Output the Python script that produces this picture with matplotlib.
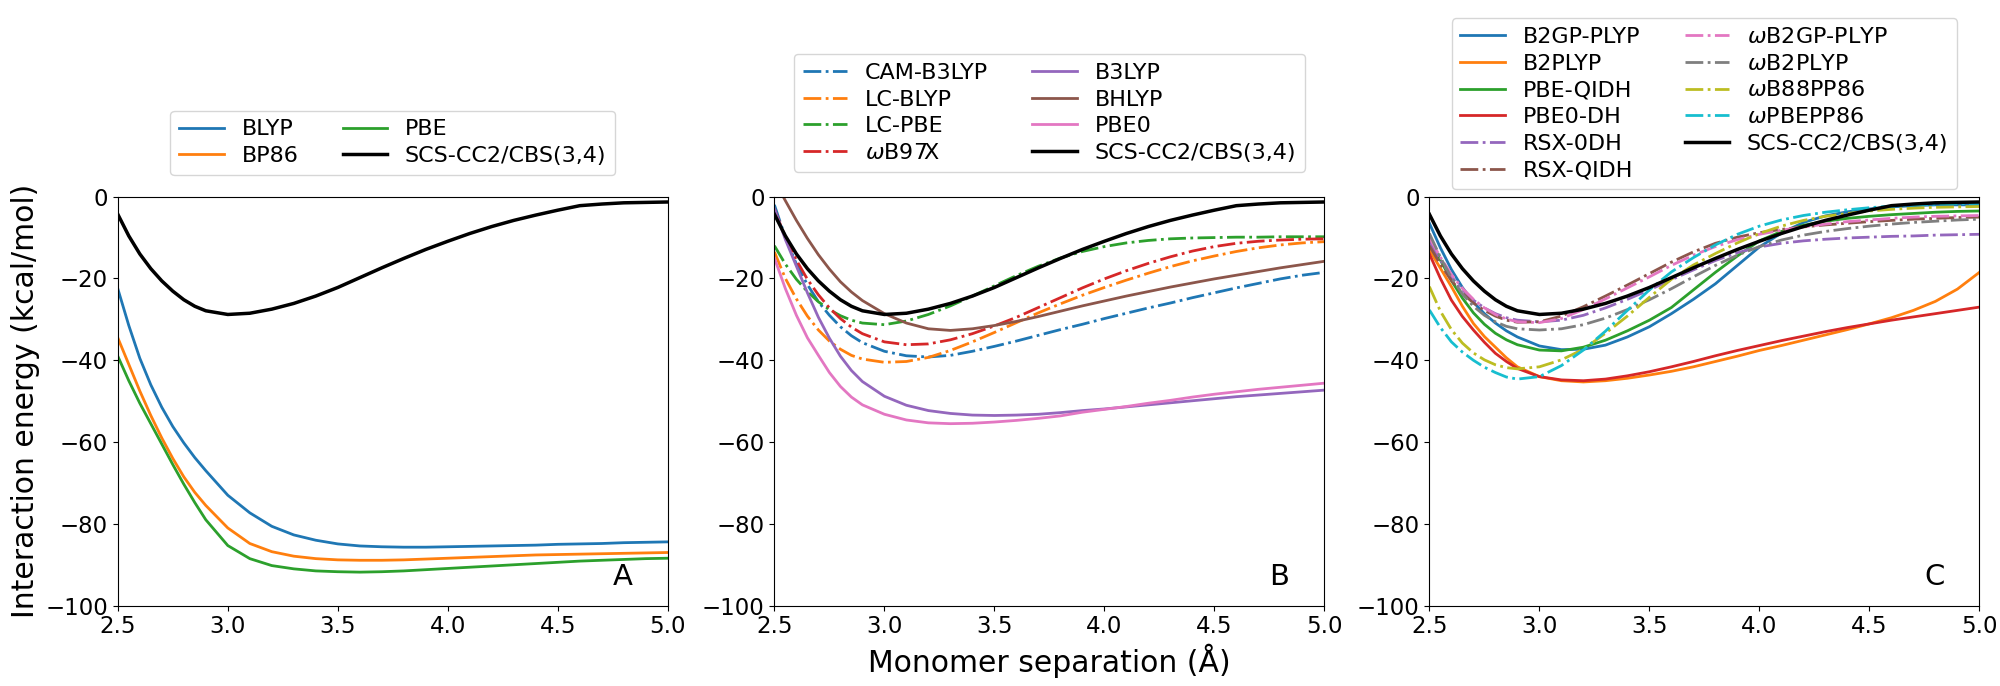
import matplotlib
matplotlib.use("Agg")
import matplotlib.pyplot as plt

# Monomer separation grid (Å)
sep = [2.5, 2.55, 2.6, 2.65, 2.7, 2.75, 2.8, 2.85, 2.9, 3.0, 3.1, 3.2, 3.3, 3.4, 3.5,
       3.6, 3.7, 3.8, 3.9, 4.0, 4.1, 4.2, 4.3, 4.4, 4.5, 4.6, 4.7, 4.8, 4.9, 5.0]

# Reference
scs_cc2 = [-4.3, -9.6, -14.0, -17.6, -20.6, -23.1, -25.2, -26.8, -27.9, -28.8, -28.5, -27.5, -26.1, -24.3, -22.2,
           -19.8, -17.4, -15.1, -12.9, -10.9, -9.0, -7.3, -5.8, -4.5, -3.3, -2.2, -1.8, -1.5, -1.4, -1.3]

# Panel A
blyp = [-22.5, -31.5, -39.5, -46.0, -51.5, -56.2, -60.2, -63.8, -67.0, -73.0, -77.3, -80.6, -82.7, -84.0, -84.9,
        -85.4, -85.6, -85.7, -85.7, -85.6, -85.5, -85.4, -85.3, -85.2, -85.0, -84.9, -84.8, -84.6, -84.5, -84.4]
bp86 = [-34.5, -41.0, -47.5, -53.5, -59.0, -64.0, -68.5, -72.3, -75.5, -81.0, -84.8, -86.8, -87.9, -88.5, -88.8,
        -88.9, -88.9, -88.8, -88.6, -88.4, -88.2, -88.0, -87.8, -87.6, -87.5, -87.4, -87.3, -87.2, -87.1, -87.0]
pbe = [-39.0, -45.0, -50.5, -55.5, -60.5, -65.5, -70.3, -74.8, -79.0, -85.3, -88.5, -90.2, -91.0, -91.5, -91.7,
       -91.8, -91.7, -91.5, -91.2, -90.9, -90.6, -90.3, -90.0, -89.7, -89.4, -89.1, -88.9, -88.7, -88.5, -88.4]

# Panel B
cam_b3lyp = [-2.0, -10.0, -16.5, -21.5, -25.7, -29.0, -31.8, -34.0, -35.7, -37.8, -38.9, -39.2, -38.8, -37.8, -36.6,
             -35.3, -33.9, -32.5, -31.2, -29.8, -28.5, -27.2, -26.0, -24.7, -23.5, -22.3, -21.2, -20.1, -19.2, -18.5]
lc_blyp = [-13.5, -20.0, -25.0, -29.2, -32.6, -35.3, -37.3, -38.8, -39.7, -40.5, -40.3, -39.3, -37.6, -35.5, -33.2,
           -30.8, -28.4, -26.2, -24.1, -22.2, -20.4, -18.7, -17.1, -15.7, -14.5, -13.4, -12.5, -11.8, -11.3, -11.0]
lc_pbe = [-12.0, -16.5, -20.2, -23.2, -25.7, -27.6, -29.1, -30.2, -30.9, -31.3, -30.4, -28.8, -26.7, -24.3, -21.8,
          -19.3, -17.0, -15.0, -13.4, -12.2, -11.3, -10.7, -10.3, -10.1, -10.0, -9.9, -9.9, -9.8, -9.8, -9.8]
wb97x = [-3.0, -10.0, -15.5, -20.2, -24.0, -27.2, -29.8, -31.9, -33.5, -35.5, -36.2, -36.0, -35.0, -33.5, -31.6,
         -29.5, -27.1, -24.7, -22.3, -20.1, -18.1, -16.3, -14.7, -13.3, -12.2, -11.4, -10.9, -10.6, -10.4, -10.3]
b3lyp = [-3.0, -10.5, -17.0, -23.5, -29.5, -34.6, -39.0, -42.5, -45.2, -48.8, -51.0, -52.3, -53.0, -53.4, -53.5,
         -53.4, -53.2, -52.8, -52.3, -51.9, -51.4, -50.9, -50.4, -49.9, -49.4, -48.9, -48.5, -48.1, -47.7, -47.3]
bhlyp = [4.0, -1.0, -5.8, -10.2, -14.2, -17.7, -20.8, -23.3, -25.4, -28.6, -30.9, -32.3, -32.7, -32.3, -31.5,
         -30.5, -29.3, -28.0, -26.7, -25.5, -24.3, -23.2, -22.1, -21.1, -20.1, -19.2, -18.3, -17.4, -16.6, -15.8]
pbe0 = [-15.0, -22.5, -29.0, -34.5, -38.8, -43.0, -46.4, -49.0, -50.9, -53.2, -54.6, -55.3, -55.5, -55.4, -55.1,
        -54.7, -54.2, -53.6, -52.7, -52.0, -51.3, -50.5, -49.8, -49.0, -48.3, -47.7, -47.1, -46.6, -46.1, -45.6]

# Panel C
b2gp_plyp = [-6.5, -12.5, -17.8, -22.2, -25.8, -28.6, -30.9, -32.8, -34.3, -36.5, -37.4, -37.3, -36.3, -34.3, -31.8,
             -28.6, -25.1, -21.3, -16.8, -12.3, -8.9, -6.3, -4.7, -3.7, -3.0, -2.5, -2.2, -2.0, -2.0, -2.0]
b2plyp = [-13.0, -17.5, -22.0, -26.8, -31.0, -34.2, -36.8, -39.4, -41.6, -44.0, -45.0, -45.3, -45.0, -44.4, -43.6,
          -42.7, -41.6, -40.3, -39.0, -37.6, -36.4, -35.1, -33.8, -32.5, -31.1, -29.6, -27.8, -25.6, -22.6, -18.5]
pbe_qidh = [-10.0, -15.5, -20.5, -24.8, -28.4, -31.2, -33.4, -35.0, -36.2, -37.5, -37.7, -36.8, -35.1, -32.8, -30.2,
            -27.1, -22.8, -18.5, -14.5, -10.8, -8.5, -7.0, -6.0, -5.3, -4.8, -4.4, -4.1, -3.8, -3.6, -3.5]
pbe0_dh = [-14.0, -20.0, -25.3, -29.3, -32.6, -35.6, -38.3, -40.3, -42.0, -44.0, -44.8, -45.0, -44.6, -43.8, -42.8,
           -41.6, -40.3, -38.9, -37.6, -36.4, -35.2, -34.1, -33.0, -32.0, -31.1, -30.2, -29.4, -28.6, -27.8, -27.0]
rsx_0dh = [-11.0, -15.5, -19.5, -22.8, -25.3, -27.2, -28.6, -29.6, -30.2, -30.6, -30.2, -29.0, -27.2, -25.1, -22.8,
           -20.3, -17.9, -15.6, -13.7, -12.3, -11.4, -10.8, -10.4, -10.1, -9.9, -9.7, -9.6, -9.4, -9.3, -9.2]
rsx_qidh = [-12.0, -16.5, -20.5, -23.6, -26.0, -27.8, -29.2, -30.2, -30.7, -30.6, -29.2, -26.9, -24.3, -21.6, -18.8,
            -16.0, -13.5, -11.4, -9.9, -8.8, -8.0, -7.4, -6.9, -6.5, -6.1, -5.8, -5.5, -5.3, -5.1, -5.0]
wb2gp_plyp = [-10.0, -14.8, -19.0, -22.4, -25.1, -27.2, -28.8, -29.9, -30.6, -30.8, -29.8, -27.6, -25.0, -22.3, -19.6,
              -16.8, -14.3, -12.2, -10.5, -9.2, -8.2, -7.4, -6.7, -6.1, -5.7, -5.3, -5.0, -4.8, -4.7, -4.6]
wb2plyp = [-9.0, -14.8, -19.8, -23.8, -26.8, -29.0, -30.6, -31.7, -32.3, -32.6, -32.3, -31.3, -29.7, -27.6, -25.2,
           -22.5, -19.6, -16.8, -14.3, -12.2, -10.6, -9.4, -8.5, -7.8, -7.2, -6.7, -6.3, -6.0, -5.7, -5.5]
wb88pp86 = [-22.0, -28.0, -32.5, -35.8, -38.2, -39.9, -41.1, -41.8, -42.1, -41.6, -39.9, -37.3, -33.4, -29.2, -24.6,
            -20.2, -16.7, -13.9, -11.3, -9.0, -7.2, -5.8, -4.8, -4.1, -3.5, -3.1, -2.8, -2.6, -2.5, -2.4]
wpbepp86 = [-27.7, -32.0, -35.5, -38.0, -40.0, -41.7, -43.0, -44.1, -44.6, -44.0, -41.3, -37.5, -32.9, -27.8, -22.8,
            -18.4, -14.9, -11.8, -9.2, -7.2, -5.7, -4.6, -3.8, -3.2, -2.7, -2.3, -2.0, -1.8, -1.7, -1.6]

xticks = [2.5, 3.0, 3.5, 4.0, 4.5, 5.0]
yticks = [0, -20, -40, -60, -80, -100]

panels = [
    ("A", [("BLYP", blyp, "C0", "-"), ("BP86", bp86, "C1", "-"), ("PBE", pbe, "C2", "-")],
     1.053),
    ("B", [("CAM-B3LYP", cam_b3lyp, "C0", "-."), ("LC-BLYP", lc_blyp, "C1", "-."),
           ("LC-PBE", lc_pbe, "C2", "-."), (r"$\omega$B97X", wb97x, "C3", "-."),
           ("B3LYP", b3lyp, "C4", "-"), ("BHLYP", bhlyp, "C5", "-"), ("PBE0", pbe0, "C6", "-")],
     1.061),
    ("C", [("B2GP-PLYP", b2gp_plyp, "C0", "-"), ("B2PLYP", b2plyp, "C1", "-"),
           ("PBE-QIDH", pbe_qidh, "C2", "-"), ("PBE0-DH", pbe0_dh, "C3", "-"),
           ("RSX-0DH", rsx_0dh, "C4", "-."), ("RSX-QIDH", rsx_qidh, "C5", "-."),
           (r"$\omega$B2GP-PLYP", wb2gp_plyp, "C6", "-."), (r"$\omega$B2PLYP", wb2plyp, "C7", "-."),
           (r"$\omega$B88PP86", wb88pp86, "C8", "-."), (r"$\omega$PBEPP86", wpbepp86, "C9", "-.")],
     1.018),
]

fig = plt.figure(figsize=(20, 6.86), dpi=100)
lefts = [0.0589, 0.3872, 0.7147]
axes = []
for (letter, series, leg_y), left in zip(panels, lefts):
    ax = fig.add_axes([left, 0.1171, 0.275, 0.5962])
    for label, vals, color, ls in series:
        ax.plot(sep, vals, color=color, linestyle=ls, linewidth=2.0, label=label)
    ax.plot(sep, scs_cc2, color="black", linewidth=2.5, label="SCS-CC2/CBS(3,4)")
    ax.set_xlim(2.5, 5.0)
    ax.set_ylim(-100, 0)
    ax.set_xticks(xticks)
    ax.set_yticks(yticks)
    ax.tick_params(labelsize=16.5)
    ax.text(4.75, -95, letter, fontsize=21)
    ax.legend(loc="lower center", bbox_to_anchor=(0.5, leg_y), ncol=2, fontsize=16,
              labelspacing=0.3, borderaxespad=0)
    axes.append(ax)

axes[0].set_ylabel("Interaction energy (kcal/mol)", fontsize=21.5)
axes[1].set_xlabel("Monomer separation (Å)", fontsize=21.5)

fig.savefig("out.png", dpi=100)
